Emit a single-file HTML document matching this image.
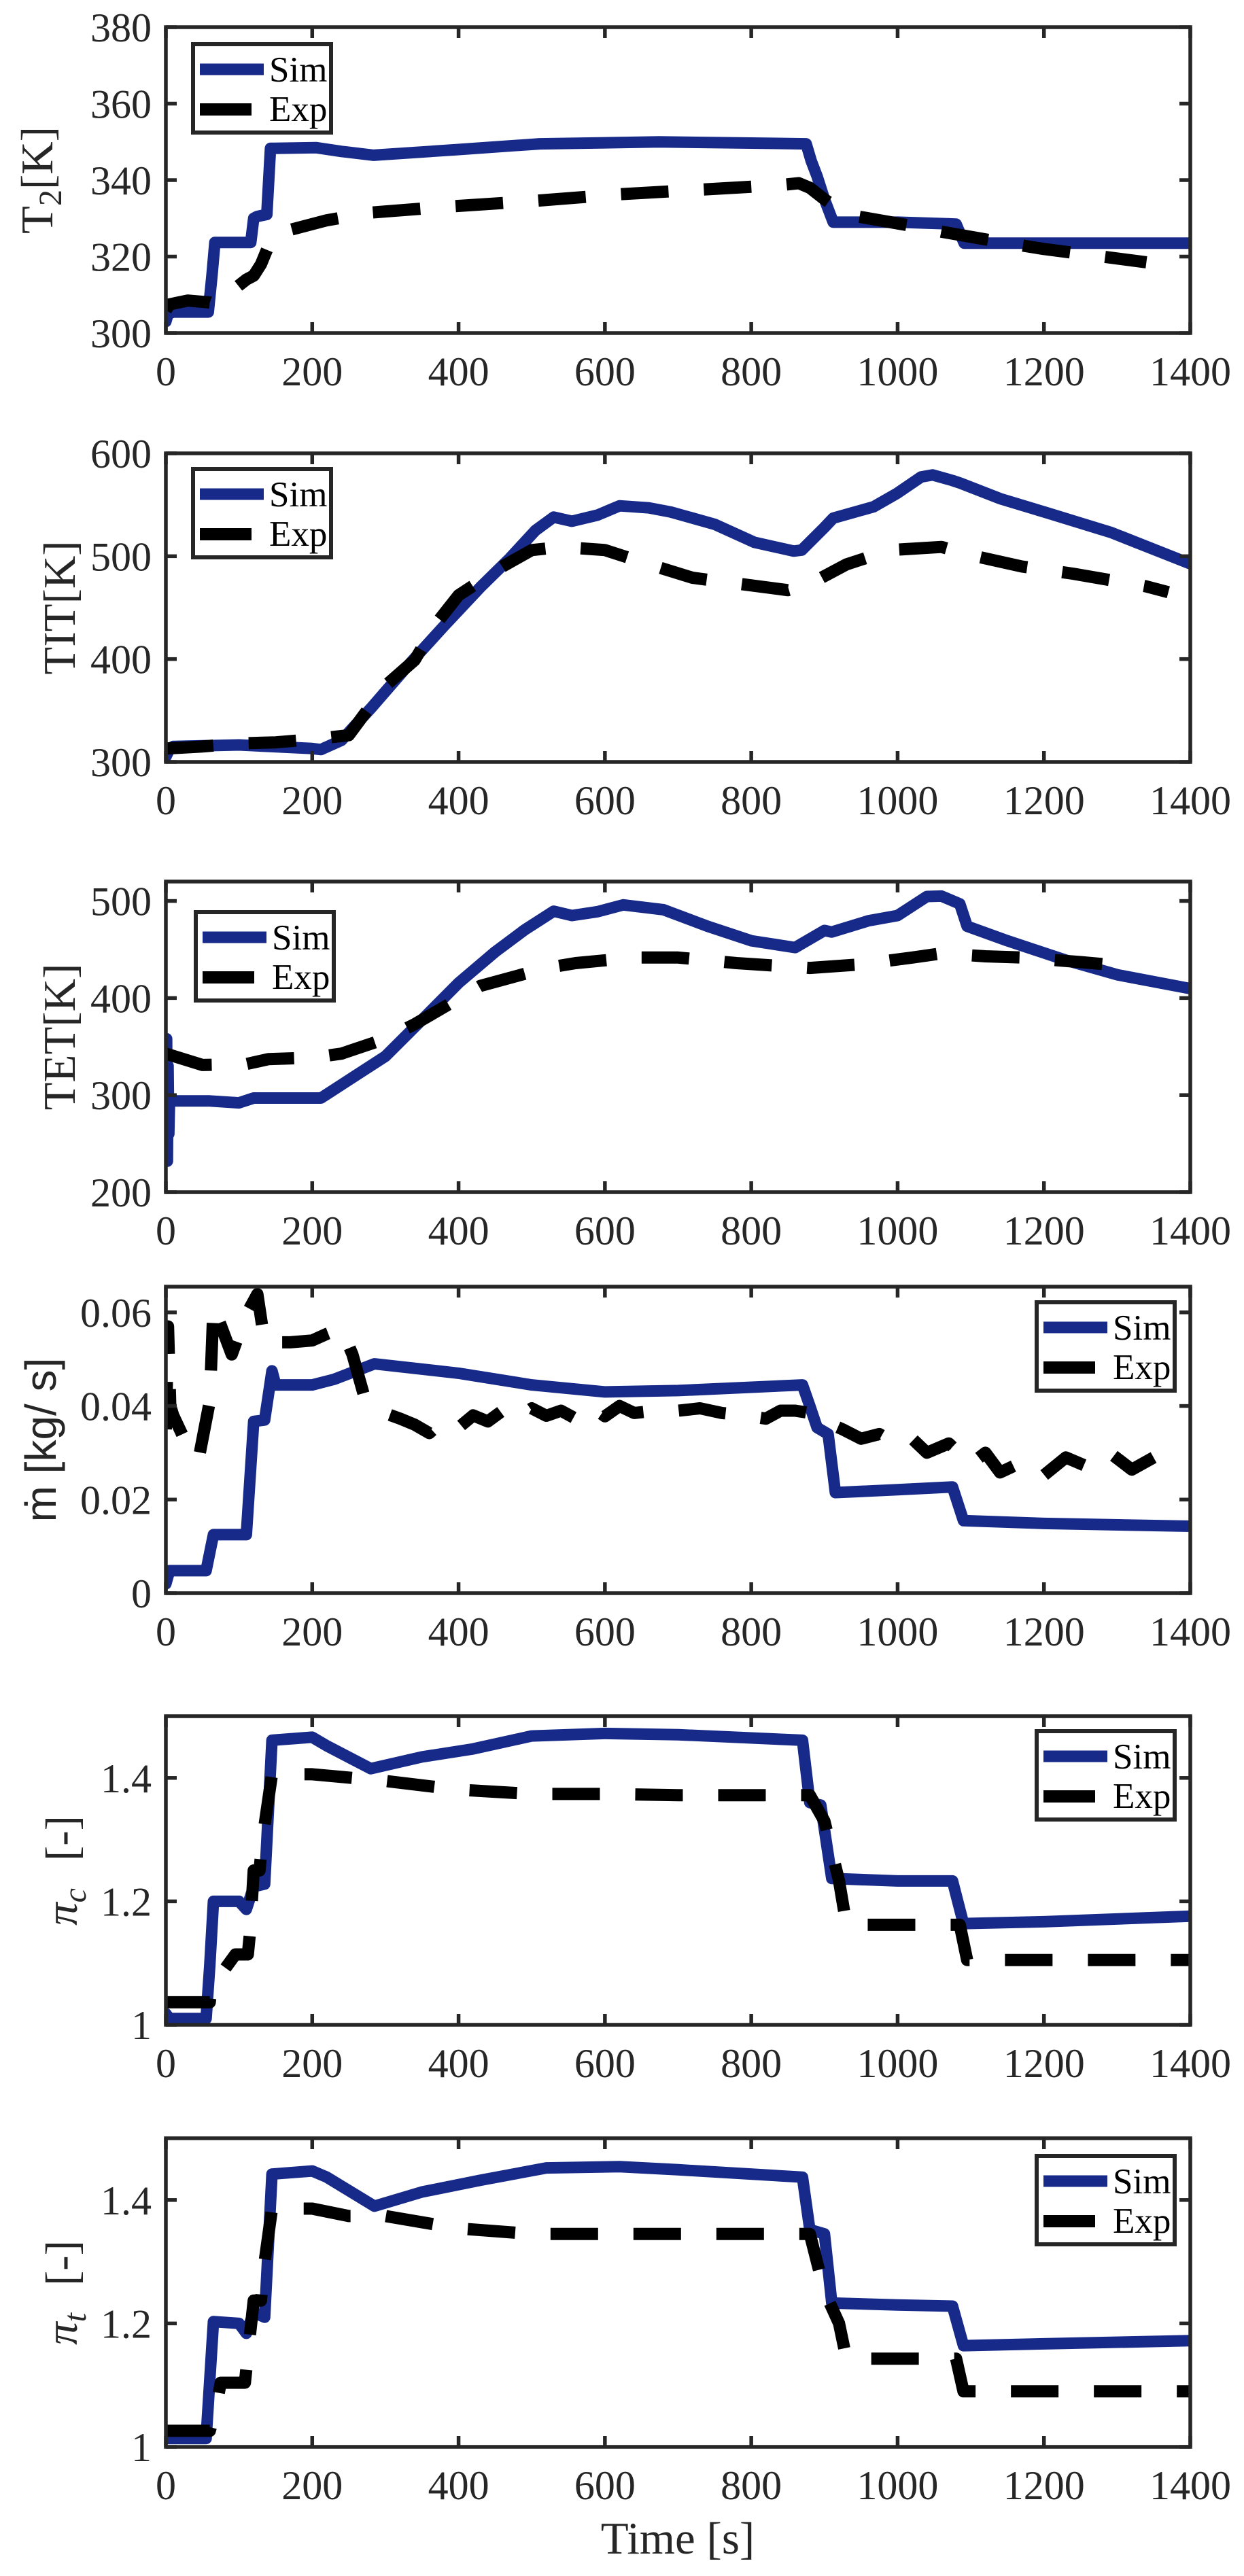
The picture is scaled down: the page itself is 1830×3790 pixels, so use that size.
<!DOCTYPE html>
<html><head><meta charset="utf-8"><title>Sim vs Exp</title>
<style>html,body{margin:0;padding:0;background:#fff}svg{display:block}</style></head>
<body>
<svg id="fig" xmlns="http://www.w3.org/2000/svg" width="1830" height="3790" viewBox="0 0 1830 3790"></svg>
<script>
// ---------- shared axis data ----------
const xTicks = [0,200,400,600,800,1000,1200,1400];
const xTickLabels = ['0','200','400','600','800','1000','1200','1400'];

// ---------- panel 1: T2 ----------
const t2Ticks = [300,320,340,360,380];
const t2TickLabels = ['300','320','340','360','380'];
const t2SimT = [0,3,10,58,63,67,116,120,125,138,143,148,205,240,284,400,511,674,875,882,890,900,912,1000,1080,1091,1200,1400];
const t2SimV = [303,305,305.5,305.5,315,323.7,323.7,330,330.5,331,348.3,348.3,348.5,347.5,346.5,348,349.5,350,349.5,345,341,335,329,329,328.5,323.5,323.5,323.5];
const t2ExpT = [0,5,30,60,67,110,120,130,145,150,220,280,380,500,620,840,865,880,900,930,1020,1060,1150,1200,1280,1340];
const t2ExpV = [306,307.5,308.5,308,307.5,314,315,318,325,326,329.5,331.5,333,334.5,336.3,338.7,339.2,338,335,331,328,326.5,323.5,322,320,318.5];

// ---------- panel 2: TIT ----------
const titTicks = [300,400,500,600];
const titTickLabels = ['300','400','500','600'];
const titSimT = [0,4,10,100,200,212,240,280,330,380,430,470,505,530,555,590,620,660,690,750,804,858,869,900,912,967,999,1032,1048,1075,1086,1140,1205,1292,1400];
const titSimV = [305,311,315,316.5,313,312,321,352,393,432,470,498,525,538,534,540,549,547,543,531,513.6,505,506,528,537,548,561,577,579,573.6,571,556,542,523,492.6];
const titExpT = [0,50,100,150,200,250,300,340,370,400,460,500,540,600,670,720,850,880,930,990,1060,1100,1170,1240,1340,1370];
const titExpV = [313,315,318,319,322,326,374,399,435,462,490,506,509,506,490,479,467,473,492,506,509,501,490,483,470.6,465];

// ---------- panel 3: TET ----------
const tetTicks = [200,300,400,500];
const tetTickLabels = ['200','300','400','500'];
const tetSimT = [0,1,2,3,4,5,8,60,100,120,200,212,240,300,350,400,450,490,530,555,590,625,680,740,800,860,900,910,960,1000,1040,1060,1085,1095,1150,1230,1300,1400];
const tetSimV = [250,358,232,330,260,295,294,294,292,297,297,297,310.6,340,377.6,415.5,447.5,470,489.5,485,489,496,491,474,459,452,469.6,468,479.5,485,504.6,505,497,474,459,439,424,409.7];
const tetExpT = [0,50,110,140,200,240,300,340,390,430,520,560,640,700,780,880,950,1020,1060,1120,1170,1250,1310];
const tetExpV = [342.7,331,332,337,338.6,342.7,358,373,395,412.6,431,436,441.7,441.7,436,431,434.7,441.7,446,443,441.7,437,433];

// ---------- panel 4: mass flow ----------
const mTicks = [0,0.02,0.04,0.06];
const mTickLabels = ['0','0.02','0.04','0.06'];
const mSimT = [0,5,55,65,100,110,120,135,145,150,200,230,285,400,500,600,700,870,880,890,905,915,1000,1075,1090,1200,1400];
const mSimV = [0.002,0.0048,0.0048,0.0125,0.0125,0.0125,0.0367,0.037,0.0475,0.0445,0.0445,0.0457,0.049,0.047,0.0445,0.043,0.0433,0.0445,0.04,0.0354,0.034,0.0215,0.0221,0.0227,0.0155,0.0149,0.0143];
const mExpT = [0,3,6,10,25,45,60,65,90,110,125,135,170,200,220,240,255,270,290,320,340,360,380,400,420,440,460,480,500,520,540,560,580,600,620,640,670,700,730,760,790,820,840,860,880,900,925,950,975,1000,1020,1040,1070,1100,1120,1140,1170,1200,1230,1260,1290,1320,1350,1380];
const mExpV = [0.035,0.057,0.04,0.038,0.033,0.0288,0.041,0.0614,0.051,0.0596,0.0639,0.0536,0.0536,0.054,0.0554,0.0566,0.051,0.0427,0.039,0.0373,0.036,0.0342,0.037,0.0354,0.038,0.0367,0.039,0.0373,0.0395,0.0379,0.039,0.0373,0.04,0.0378,0.04,0.0385,0.039,0.039,0.0395,0.0385,0.038,0.0373,0.039,0.039,0.0385,0.0367,0.035,0.033,0.034,0.0318,0.033,0.030,0.032,0.0276,0.03,0.0258,0.028,0.0252,0.029,0.027,0.03,0.0264,0.029,0.0288];

// ---------- panel 5: pi_c ----------
const pcTicks = [1,1.2,1.4];
const pcTickLabels = ['1','1.2','1.4'];
const pcSimT = [0,5,55,60,65,100,110,120,135,145,200,220,280,350,420,500,600,700,870,880,895,910,1000,1075,1090,1200,1400];
const pcSimV = [1.018,1.01,1.01,1.096,1.2,1.2,1.187,1.224,1.228,1.461,1.466,1.452,1.415,1.434,1.447,1.468,1.472,1.47,1.461,1.36,1.356,1.237,1.233,1.233,1.164,1.167,1.176];
const pcExpT = [0,60,62,95,112,115,120,128,132,145,200,300,400,500,600,700,880,900,920,930,1085,1095,1100,1400];
const pcExpV = [1.0365,1.0365,1.06,1.114,1.114,1.15,1.25,1.25,1.3,1.406,1.406,1.395,1.381,1.374,1.374,1.372,1.372,1.33,1.233,1.162,1.162,1.105,1.105,1.105];

// ---------- panel 6: pi_t ----------
const ptTicks = [1,1.2,1.4];
const ptTickLabels = ['1','1.2','1.4'];
const ptSimT = [0,55,65,100,110,120,135,145,200,220,285,350,430,520,620,700,870,880,900,910,1000,1075,1090,1200,1400];
const ptSimV = [1.0136,1.0136,1.203,1.2,1.184,1.218,1.21,1.442,1.447,1.437,1.39,1.413,1.432,1.452,1.454,1.449,1.437,1.352,1.345,1.233,1.23,1.228,1.164,1.167,1.172];
const ptExpT = [0,60,68,75,108,112,120,130,135,145,200,250,300,400,500,880,900,920,930,1080,1090,1100,1400];
const ptExpV = [1.026,1.026,1.06,1.104,1.104,1.15,1.237,1.237,1.3,1.386,1.386,1.374,1.374,1.354,1.345,1.345,1.252,1.2,1.143,1.143,1.09,1.09,1.09];

// ---------- drawing ----------
const NS = 'http://www.w3.org/2000/svg';
const svg = document.getElementById('fig');
const X0 = 244, X1 = 1751, XMIN = 0, XMAX = 1400;
const BLUE = '#172a8a', AX = '#262626';
function mk(tag, attrs, parent){ const e=document.createElementNS(NS,tag); for(const k in attrs) e.setAttribute(k,attrs[k]); (parent||svg).appendChild(e); return e; }
function xScale(t){ return X0 + (t-XMIN)/(XMAX-XMIN)*(X1-X0); }

const panels = [
 {id:'t2', top:40, bot:490, ymin:300, ymax:380, ticks:t2Ticks, tl:t2TickLabels, simT:t2SimT, simV:t2SimV, expT:t2ExpT, expV:t2ExpV, leg:[284,65], label:'t2'},
 {id:'tit', top:667, bot:1121, ymin:300, ymax:600, ticks:titTicks, tl:titTickLabels, simT:titSimT, simV:titSimV, expT:titExpT, expV:titExpV, leg:[284,690], label:'tit'},
 {id:'tet', top:1297, bot:1754, ymin:200, ymax:520, ticks:tetTicks, tl:tetTickLabels, simT:tetSimT, simV:tetSimV, expT:tetExpT, expV:tetExpV, leg:[288,1342], label:'tet'},
 {id:'mdot', top:1893, bot:2344, ymin:0, ymax:0.0655, ticks:mTicks, tl:mTickLabels, simT:mSimT, simV:mSimV, expT:mExpT, expV:mExpV, leg:[1525,1916], label:'m'},
 {id:'pic', top:2525, bot:2979, ymin:1, ymax:1.5, ticks:pcTicks, tl:pcTickLabels, simT:pcSimT, simV:pcSimV, expT:pcExpT, expV:pcExpV, leg:[1525,2547], label:'pc'},
 {id:'pit', top:3146, bot:3600, ymin:1, ymax:1.5, ticks:ptTicks, tl:ptTickLabels, simT:ptSimT, simV:ptSimV, expT:ptExpT, expV:ptExpV, leg:[1525,3172], label:'pt'}
];

const defs = mk('defs',{});
panels.forEach(p=>{
  const yScale = v => p.bot - (v-p.ymin)/(p.ymax-p.ymin)*(p.bot-p.top);
  const g = mk('g',{});
  
  
  const cp = mk('clipPath',{id:'clip-'+p.id}, defs);
  mk('rect',{x:X0,y:p.top,width:X1-X0,height:p.bot-p.top}, cp);

  const line = (T,V,color,w,dash,name)=>{
    let d=''; T.forEach((t,i)=>{ d += (i?'L':'M')+xScale(t).toFixed(1)+','+yScale(V[i]).toFixed(1); });
    const a={d:d,fill:'none',stroke:color,'stroke-width':w,'stroke-linejoin':'round','clip-path':'url(#clip-'+p.id+')'};
    if(dash) a['stroke-dasharray']=dash; else a['stroke-linecap']='round';
    const e = mk('path',a,g);
    
    
  };
  line(p.simT,p.simV,BLUE,17,null,p.id+'-sim-line');
  line(p.expT,p.expV,'#000',18,'70 52',p.id+'-exp-line');

  const box = mk('rect',{x:X0,y:p.top,width:X1-X0,height:p.bot-p.top,fill:'none',stroke:AX,'stroke-width':5.5},g);
  
  
  xTicks.forEach((t,i)=>{
    const x=xScale(t);
    mk('line',{x1:x,x2:x,y1:p.bot,y2:p.bot-16,stroke:AX,'stroke-width':5.5},g);
    mk('line',{x1:x,x2:x,y1:p.top,y2:p.top+16,stroke:AX,'stroke-width':5.5},g);
    const tx = mk('text',{x:x,y:p.bot+77,'text-anchor':'middle','font-family':'Liberation Serif, serif','font-size':60,fill:AX},g);
    tx.textContent = xTickLabels[i];
    
    
  });
  p.ticks.forEach((v,i)=>{
    const y=yScale(v);
    mk('line',{x1:X0,x2:X0+16,y1:y,y2:y,stroke:AX,'stroke-width':5.5},g);
    mk('line',{x1:X1,x2:X1-16,y1:y,y2:y,stroke:AX,'stroke-width':5.5},g);
    const ty = mk('text',{x:223,y:y+21,'text-anchor':'end','font-family':'Liberation Serif, serif','font-size':60,fill:AX},g);
    ty.textContent = p.tl[i];
    
    
  });

  const [lx,ly]=p.leg;
  const lg = mk('g',{},g);
  
  
  mk('rect',{x:lx,y:ly,width:203,height:130,fill:'#fff',stroke:AX,'stroke-width':6},lg);
  mk('line',{x1:lx+10,x2:lx+104,y1:ly+37,y2:ly+37,stroke:BLUE,'stroke-width':17},lg);
  mk('line',{x1:lx+10,x2:lx+86,y1:ly+96,y2:ly+96,stroke:'#000','stroke-width':18},lg);
  const s1 = mk('text',{x:lx+112,y:ly+55,'font-family':'Liberation Serif, serif','font-size':53,fill:'#000'},lg);
  s1.textContent='Sim';
  
  
  const s2 = mk('text',{x:lx+112,y:ly+113,'font-family':'Liberation Serif, serif','font-size':53,fill:'#000'},lg);
  s2.textContent='Exp';
  
  

  const cy=(p.top+p.bot)/2;
  let bx, html, fam, fs;
  if(p.label==='t2'){ bx=77; fam='Liberation Serif, serif'; fs=67; html='T<tspan baseline-shift="-28%" font-size="48">2</tspan>[K]'; }
  else if(p.label==='tit'){ bx=110; fam='Liberation Serif, serif'; fs=67; html='TIT[K]'; }
  else if(p.label==='tet'){ bx=110; fam='Liberation Serif, serif'; fs=67; html='TET[K]'; }
  else if(p.label==='m'){ bx=82; fam='Liberation Sans, sans-serif'; fs=64; html='ṁ [kg/ s]'; }
  else if(p.label==='pc'){ bx=113; fam='Liberation Serif, serif'; fs=67; html='<tspan font-style="italic">π</tspan><tspan font-style="italic" baseline-shift="-28%" font-size="48">c</tspan><tspan dx="40">[-]</tspan>'; }
  else { bx=113; fam='Liberation Serif, serif'; fs=67; html='<tspan font-style="italic">π</tspan><tspan font-style="italic" baseline-shift="-28%" font-size="48">t</tspan><tspan dx="40">[-]</tspan>'; }
  const yl = mk('text',{x:bx,y:cy,'text-anchor':'middle','font-family':fam,'font-size':fs,fill:AX,transform:'rotate(-90 '+bx+' '+cy+')'},g);
  yl.innerHTML = html;
  
  
});

const xt = mk('text',{x:997,y:3757,'text-anchor':'middle','font-family':'Liberation Serif, serif','font-size':67,fill:AX});
xt.textContent='Time [s]';


</script>
</body></html>
